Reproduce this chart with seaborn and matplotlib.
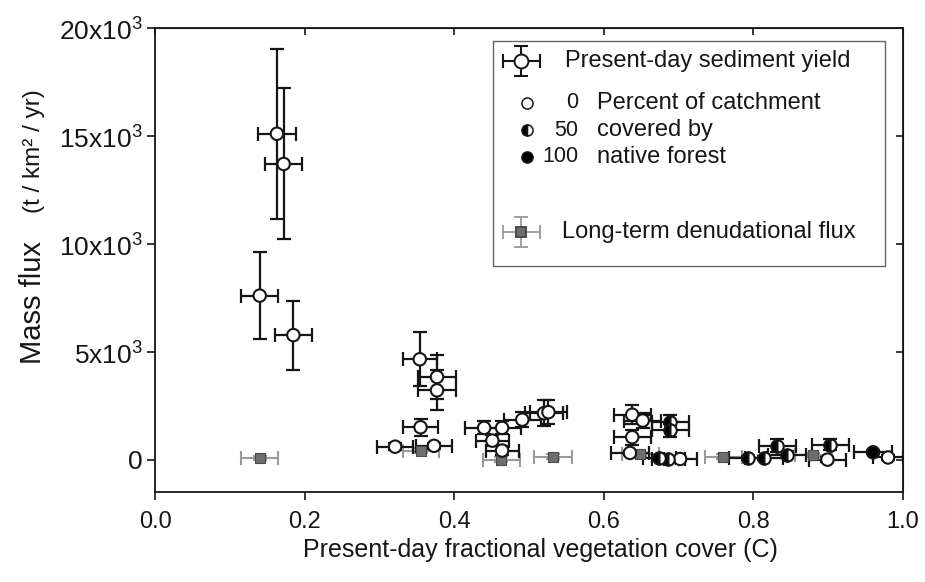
import matplotlib
matplotlib.use("Agg")
import matplotlib.pyplot as plt
import seaborn as sns
import pandas as pd
from matplotlib.patches import Rectangle

# present-day sediment yield (mass flux in 10^3 t/km2/yr)
veg_cover = [0.163, 0.172, 0.140, 0.185, 0.354, 0.377, 0.377, 0.355, 0.321, 0.373,
             0.440, 0.464, 0.451, 0.464, 0.491, 0.520, 0.526, 0.638, 0.652, 0.638,
             0.635, 0.689, 0.689, 0.674, 0.686, 0.702, 0.793, 0.814, 0.832, 0.845,
             0.903, 0.899, 0.960, 0.980]
veg_err = [0.025, 0.025, 0.025, 0.025, 0.023, 0.025, 0.025, 0.024, 0.024, 0.024,
           0.025, 0.025, 0.022, 0.022, 0.025, 0.025, 0.025, 0.025, 0.025, 0.025,
           0.025, 0.025, 0.025, 0.022, 0.022, 0.022, 0.025, 0.025, 0.025, 0.025,
           0.025, 0.025, 0.025, 0.020]
yield_k = [15.1, 13.7, 7.6, 5.77, 4.65, 3.83, 3.21, 1.5, 0.6, 0.64,
           1.47, 1.47, 0.88, 0.42, 1.85, 2.15, 2.2, 2.08, 1.81, 1.04,
           0.31, 1.73, 1.35, 0.08, 0.03, 0.03, 0.08, 0.08, 0.65, 0.23,
           0.7, 0.0, 0.34, 0.1]
yield_err = [3.95, 3.5, 2.0, 1.6, 1.25, 1.0, 0.93, 0.4, 0.15, 0.15,
             0.3, 0.3, 0.25, 0.2, 0.35, 0.6, 0.55, 0.45, 0.35, 0.35,
             0.1, 0.35, 0.3, 0.1, 0.1, 0.1, 0.1, 0.1, 0.3, 0.15,
             0.25, 0.1, 0.1, 0.1]
forest_pct = [0, 0, 0, 0, 0, 0, 0, 0, 0, 0,
              0, 0, 0, 0, 0, 0, 0, 0, 0, 0,
              0, 50, 50, 50, 50, 0, 50, 50, 50, 50,
              50, 0, 100, 0]

# long-term denudational flux
lt_cover = [0.140, 0.356, 0.463, 0.532, 0.649, 0.760, 0.880]
lt_cover_err = [0.025, 0.024, 0.025, 0.025, 0.025, 0.025, 0.025]
lt_flux_k = [0.08, 0.42, 0.0, 0.14, 0.26, 0.14, 0.23]
lt_flux_err = [0.1, 0.1, 0.1, 0.1, 0.1, 0.1, 0.1]

y_ticks = [0, 5, 10, 15, 20]
y_tick_labels = ["0", "5x10$^3$", "10x10$^3$", "15x10$^3$", "20x10$^3$"]
x_ticks = [0.0, 0.2, 0.4, 0.6, 0.8, 1.0]

sns.set_style("ticks")
plt.rcParams["font.family"] = ["Liberation Sans", "DejaVu Sans"]
plt.rcParams["mathtext.fontset"] = "custom"
plt.rcParams["mathtext.rm"] = "Liberation Sans"

df = pd.DataFrame({"C": veg_cover, "flux": yield_k, "forest": forest_pct})
lt = pd.DataFrame({"C": lt_cover, "flux": lt_flux_k})

fig = plt.figure(figsize=(9.25, 5.82), dpi=100)
ax = fig.add_axes([155 / 925, 1 - 492 / 582, 748 / 925, 464 / 582])

ink = "#161616"
grey = "#9a9a9a"

# error bars
ax.errorbar(lt_cover, lt_flux_k, xerr=lt_cover_err, yerr=lt_flux_err, fmt="none",
            ecolor=grey, elinewidth=1.5, capsize=5, capthick=1.5, zorder=2)
ax.errorbar(veg_cover, yield_k, xerr=veg_err, yerr=yield_err, fmt="none",
            ecolor=ink, elinewidth=1.6, capsize=5, capthick=1.6, zorder=3)

# markers
sns.scatterplot(data=lt, x="C", y="flux", marker="s", s=45, color="#6e6e6e",
                edgecolor="#4a4a4a", linewidth=0.8, zorder=4, ax=ax, legend=False)
full = df[df["forest"] != 50]
sns.scatterplot(data=full, x="C", y="flux", hue="forest",
                palette={0: "white", 100: "black"}, edgecolor=ink, linewidth=1.5,
                s=80, zorder=5, ax=ax, legend=False)
half = df[df["forest"] == 50]
ax.plot(half["C"], half["flux"], ls="none", marker="o", ms=9, fillstyle="left",
        markerfacecolor="black", markerfacecoloralt="white", markeredgecolor=ink,
        markeredgewidth=1.5, zorder=5)

ax.set_xlim(0, 1.0)
ax.set_ylim(-1.5, 20)
ax.set_xticks(x_ticks)
ax.set_xticklabels([f"{t:.1f}" for t in x_ticks])
ax.set_yticks(y_ticks)
ax.set_yticklabels(y_tick_labels)
ax.tick_params(direction="out", length=6, width=1.2, colors=ink)
ax.tick_params(axis="x", labelsize=17, pad=8)
ax.tick_params(axis="y", labelsize=19, pad=3)
for s in ax.spines.values():
    s.set_visible(True)
    s.set_linewidth(1.3)
    s.set_color(ink)

top = ax.secondary_xaxis("top")
top.set_xticks(x_ticks)
top.tick_params(direction="in", length=5, width=1.2, labeltop=False, colors=ink)
right = ax.secondary_yaxis("right")
right.set_yticks(y_ticks)
right.tick_params(direction="in", length=5, width=1.2, labelright=False, colors=ink)

ax.set_ylabel("")
ax.set_xlabel("Present-day fractional vegetation cover (C)", fontsize=18, color=ink)
ax.xaxis.set_label_coords(0.515, -0.10)


# pixel position -> axes fraction, for hand placed text
def px(x, y):
    return (x - 155) / 748, (492 - y) / 464


T = ax.transAxes
ax.text(*px(33, 303), "Mass flux", transform=T, rotation=90, fontsize=21,
        ha="center", va="center", color=ink)
ax.text(*px(34, 151), "(t / km\u00b2 / yr)", transform=T, rotation=90, fontsize=17.5,
        ha="center", va="center", color=ink)

# legend drawn by hand
x0, y0 = px(493, 266)
x1, y1 = px(885, 41)
ax.add_patch(Rectangle((x0, y0), x1 - x0, y1 - y0, transform=T, fill=True,
                       facecolor="white", edgecolor="#666666", lw=1.0, zorder=6))


def glyph(cx, cy, color, lw, marker, ms, mfc, mec):
    dx, dy = 18.5 / 748, 15 / 464
    kw = dict(transform=T, color=color, lw=lw, zorder=7, clip_on=False)
    ax.plot([cx - dx, cx + dx], [cy, cy], **kw)
    ax.plot([cx, cx], [cy - dy, cy + dy], **kw)
    ax.plot([cx - dx, cx + dx], [cy, cy], ls="none", marker="|", ms=10, mew=lw, **kw)
    ax.plot([cx, cx], [cy - dy, cy + dy], ls="none", marker="_", ms=10, mew=lw, **kw)
    ax.plot([cx], [cy], marker=marker, ms=ms, mfc=mfc, mec=mec, mew=1.4, ls="none",
            transform=T, zorder=8)


glyph(*px(521, 61), ink, 1.5, "o", 10, "white", ink)
glyph(*px(521, 232), grey, 1.3, "s", 6.5, "#6e6e6e", "#4a4a4a")

ax.text(*px(565, 61), "Present-day sediment yield", transform=T, fontsize=17,
        va="center", ha="left", color=ink, zorder=8)
ax.text(*px(562, 232), "Long-term denudational flux", transform=T, fontsize=17,
        va="center", ha="left", color=ink, zorder=8)

rows = [(103, "0", "Percent of catchment", "full", "white"),
        (130, "50", "covered by", "left", "black"),
        (157, "100", "native forest", "full", "black")]
for ry, num, txt, fs, fc in rows:
    mx, my = px(527, ry)
    ax.plot([mx], [my], marker="o", ms=8, fillstyle=fs, markerfacecolor=fc,
            markerfacecoloralt="white", markeredgecolor=ink, markeredgewidth=1.1,
            transform=T, zorder=8, ls="none")
    ax.text(*px(578, ry), num, transform=T, fontsize=15.5, va="center", ha="right",
            color=ink, zorder=8)
    ax.text(*px(597, ry), txt, transform=T, fontsize=17, va="center", ha="left",
            color=ink, zorder=8)

fig.savefig("out.png", dpi=100, facecolor="white")
